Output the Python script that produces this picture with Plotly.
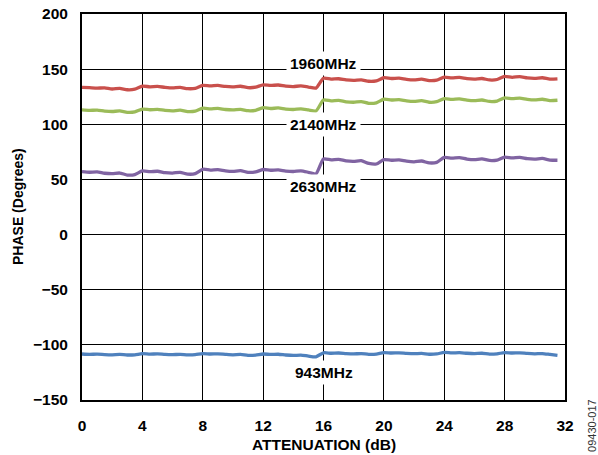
import plotly.graph_objects as go

# Attenuation setting (dB), 0.5 dB steps
attenuation = [i * 0.5 for i in range(64)]

# Phase (degrees) for each frequency
phase_1960 = [
    133.5, 133.2, 132.8, 133.0, 132.0, 132.5, 131.3, 131.8,
    134.6, 134.0, 134.3, 133.5, 133.0, 133.4, 132.3, 132.6,
    135.3, 134.8, 135.2, 134.3, 134.0, 134.5, 133.2, 133.6,
    135.8, 135.2, 135.6, 134.6, 134.2, 134.8, 133.8, 132.8,
    141.8, 141.0, 141.3, 140.2, 139.8, 140.3, 139.0, 139.4,
    142.2, 141.5, 141.9, 140.8, 140.3, 140.9, 139.6, 140.0,
    142.8, 142.0, 142.5, 141.4, 141.0, 141.5, 140.2, 140.6,
    143.5, 142.6, 143.2, 142.0, 141.6, 142.2, 141.0, 141.2,
]
phase_2140 = [
    113.0, 112.6, 112.9, 112.0, 111.6, 112.1, 110.8, 111.2,
    113.8, 113.2, 113.5, 112.6, 112.2, 112.8, 111.5, 111.9,
    114.6, 114.0, 114.4, 113.4, 113.0, 113.6, 112.3, 112.7,
    115.0, 114.3, 114.8, 113.8, 113.4, 114.0, 113.0, 112.0,
    122.0, 121.2, 121.6, 120.4, 120.0, 120.6, 119.0, 119.5,
    122.7, 122.0, 122.4, 121.3, 120.8, 121.4, 120.0, 120.5,
    123.3, 122.6, 123.0, 121.9, 121.4, 122.0, 120.7, 121.1,
    124.0, 123.2, 123.7, 122.6, 122.1, 122.7, 121.5, 121.8,
]
phase_2630 = [
    57.0, 56.5, 56.8, 55.6, 55.2, 55.8, 54.0, 54.4,
    57.7, 57.0, 57.4, 56.2, 55.8, 56.4, 54.8, 55.2,
    59.2, 58.5, 58.9, 57.8, 57.3, 58.0, 56.4, 56.8,
    59.0, 58.3, 58.7, 57.6, 57.2, 57.8, 56.5, 55.0,
    68.5, 67.8, 68.2, 66.8, 66.4, 67.0, 64.5, 64.0,
    68.0, 67.4, 67.8, 66.6, 66.0, 66.7, 65.0, 65.5,
    70.0, 69.3, 69.7, 68.5, 68.0, 68.6, 67.2, 67.6,
    70.3, 69.5, 70.0, 68.8, 68.4, 69.0, 67.6, 67.4,
]
phase_943 = [
    -108.3, -108.6, -108.4, -108.8, -109.0, -108.7, -109.2, -109.0,
    -108.0, -108.4, -108.2, -108.7, -108.9, -108.6, -109.1, -108.9,
    -107.9, -108.3, -108.1, -108.6, -109.0, -108.7, -109.5, -109.3,
    -108.3, -108.7, -108.5, -109.2, -109.6, -109.3, -110.2, -110.8,
    -107.2, -107.6, -107.4, -107.9, -108.2, -107.9, -108.6, -108.4,
    -107.0, -107.4, -107.2, -107.7, -108.0, -107.7, -108.5, -108.2,
    -106.9, -107.3, -107.1, -107.6, -107.9, -107.6, -108.4, -108.1,
    -107.0, -107.4, -107.2, -107.8, -108.1, -107.9, -108.7, -109.5,
]

series_names = ["1960MHz", "2140MHz", "2630MHz", "943MHz"]
series_values = [phase_1960, phase_2140, phase_2630, phase_943]
series_colors = ["#c9504c", "#9bbb59", "#8064a2", "#4f81bd"]

# label positions (x, y, yshift)
label_x = [16, 16, 16, 16]
label_y = [150, 100, 50, -125]
label_shift = [6, 0, -7, 0]

x_ticks = [0, 4, 8, 12, 16, 20, 24, 28, 32]
y_ticks = [-150, -100, -50, 0, 50, 100, 150, 200]

FONT = "Liberation Sans, Arial, sans-serif"

fig = go.Figure()
for name, vals, col in zip(series_names, series_values, series_colors):
    fig.add_trace(go.Scatter(
        x=attenuation, y=vals, mode="lines", name=name,
        line=dict(color=col, width=3.3, shape="spline", smoothing=0.6),
        showlegend=False,
    ))

for name, lx, ly, sh in zip(series_names, label_x, label_y, label_shift):
    fig.add_annotation(
        x=lx, y=ly, xref="x", yref="y", text=name, showarrow=False,
        yshift=sh, bgcolor="white", borderpad=3,
        font=dict(family=FONT, size=15.5, color="black", weight="bold"),
    )

fig.add_annotation(
    x=0.5, y=-0.114, xref="paper", yref="paper", text="ATTENUATION (dB)",
    showarrow=False, xanchor="center", yanchor="middle",
    font=dict(family=FONT, size=15.5, color="black", weight="bold"),
)
fig.add_annotation(
    x=-0.1325, y=0.5, xref="paper", yref="paper", text="PHASE (Degrees)",
    showarrow=False, textangle=-90, xanchor="center", yanchor="middle",
    font=dict(family=FONT, size=14, color="black", weight="bold"),
)
fig.add_annotation(
    x=1.056, y=-0.067, xref="paper", yref="paper", text="09430-017",
    showarrow=False, textangle=-90, xanchor="center", yanchor="middle",
    font=dict(family=FONT, size=11, color="#333333"),
)

axis_common = dict(
    showgrid=True, gridcolor="black", gridwidth=1,
    showline=True, linecolor="black", linewidth=2, mirror=True,
    zeroline=False, ticks="", automargin=False,
    tickfont=dict(family=FONT, size=15.5, color="black", weight="bold"),
)

fig.update_xaxes(range=[0, 32], tickvals=x_ticks, ticklabelstandoff=10, **axis_common)
fig.update_yaxes(range=[-150, 200], tickvals=y_ticks, ticklabelstandoff=9, **axis_common)

fig.update_layout(
    width=598, height=455,
    margin=dict(l=82, r=33, t=14, b=55, autoexpand=False),
    paper_bgcolor="white", plot_bgcolor="white",
)

fig.write_html(
    "out.html",
    config={"displayModeBar": False},
    post_script="document.body.style.margin='0';document.body.style.overflow='hidden';",
)
